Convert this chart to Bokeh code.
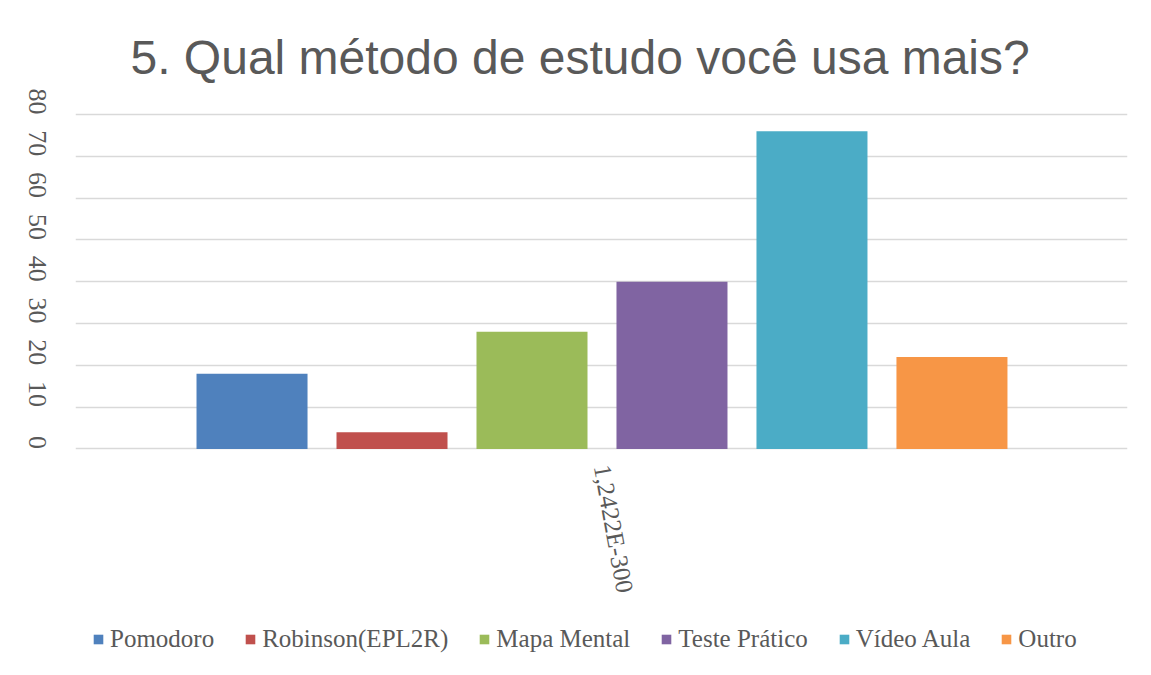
import math
from bokeh.plotting import figure
from bokeh.models import ColumnDataSource, FixedTicker, Legend, LegendItem
from bokeh.core.properties import value
from bokeh.embed import file_html
from bokeh.resources import INLINE

# ---- data ----
methods = ["Pomodoro", "Robinson(EPL2R)", "Mapa Mental", "Teste Prático", "Vídeo Aula", "Outro"]
counts = [18, 4, 28, 40, 76, 22]
colors = ["#4F81BD", "#C0504D", "#9BBB59", "#8064A2", "#4BACC6", "#F79646"]
category_label = "1,2422E-300"
y_ticks = [0, 10, 20, 30, 40, 50, 60, 70, 80]
title_text = "5. Qual método de estudo você usa mais?"

TEXT = "#595959"
GRID = "#D9D9D9"
SERIF = "Liberation Serif"

W, H = 1151, 675
TOP_80, LEFT, RIGHT = 113, 75, 24     # screen row of value 80, frame side borders
ZERO_PX = 448                         # screen row of value 0
Y_MAX = 80.0
px_per_unit = (ZERO_PX - TOP_80) / Y_MAX
PAD_TOP = 2                           # a little room so the top gridline is visible
y_end = Y_MAX + PAD_TOP / px_per_unit
y_start = -(H - ZERO_PX) / px_per_unit   # frame extends down to the bottom edge

xs = list(range(len(methods)))
src = ColumnDataSource(dict(x=xs, top=counts, color=colors, method=methods))

p = figure(width=W, height=H, output_backend="svg", toolbar_location=None,
           x_range=(-1.261, 6.254), y_range=(y_start, y_end),
           min_border_left=LEFT, min_border_right=RIGHT, min_border_top=TOP_80 - PAD_TOP,
           min_border_bottom=0)
p.background_fill_color = "white"
p.border_fill_color = "white"
p.outline_line_color = None

r = p.vbar(x="x", top="top", width=0.793, bottom=0, color="color", line_color=None, source=src)

# title
p.title.text = title_text
p.title.text_font = "Liberation Sans"
p.title.text_font_size = "48px"
p.title.text_font_style = "normal"
p.title.text_color = TEXT
p.title.align = "left"
p.title.offset = 55
p.title.standoff = 57

# y axis
p.yaxis.ticker = FixedTicker(ticks=y_ticks)
p.yaxis.major_label_orientation = -math.pi / 2
p.yaxis.major_label_text_font = SERIF
p.yaxis.major_label_text_font_size = "26px"
p.yaxis.major_label_text_color = TEXT
p.yaxis.major_label_standoff = 32
p.yaxis.axis_line_color = None
p.yaxis.major_tick_line_color = None
p.yaxis.minor_tick_line_color = None

# no x axis panel: the single category label is drawn inside the (extended) frame
p.xaxis.visible = False
center = (len(methods) - 1) / 2
p.text(x=[center], y=[-16 / px_per_unit], text=[category_label], angle=-1.39,
       text_align="left", text_baseline="middle", text_font=value(SERIF),
       text_font_size="25px", text_color=TEXT)

# grid
p.xgrid.grid_line_color = None
p.ygrid.ticker = FixedTicker(ticks=y_ticks)
p.ygrid.grid_line_color = GRID
p.ygrid.grid_line_width = 1.5

# legend (inside the extended frame, below the category label)
items = [LegendItem(label=m, renderers=[r], index=i) for i, m in enumerate(methods)]
legend = Legend(items=items, orientation="horizontal", location=(17, 22),
                glyph_width=12, glyph_height=12, label_standoff=6, spacing=30,
                label_text_font=SERIF, label_text_font_size="25px", label_text_color=TEXT,
                border_line_color=None, background_fill_alpha=0, padding=0, margin=0)
p.add_layout(legend, "center")

open("out.html", "w").write(file_html(p, INLINE))
